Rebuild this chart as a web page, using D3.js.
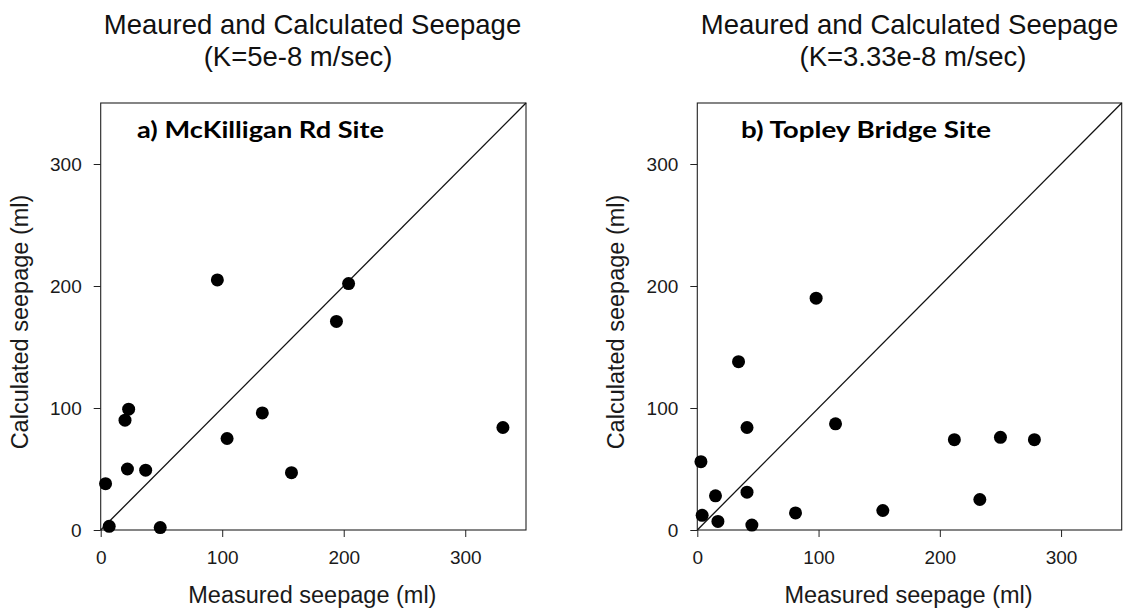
<!DOCTYPE html>
<html>
<head>
<meta charset="utf-8">
<script src="https://cdn.jsdelivr.net/npm/d3@7"></script>
<style>
  body { margin: 0; background: #fff; }
  svg { display: block; }
</style>
</head>
<body>
<svg id="chart" width="1124" height="609"></svg>
<script>
// Seepage data: measured vs. calculated (ml) for each site
const mckMeasured   = [4, 7, 20, 23, 22, 37, 49, 96, 104, 133, 157, 194, 204, 331];
const mckCalculated = [38, 3, 90, 99, 50, 49, 2, 205, 75, 96, 47, 171, 202, 84];

const topMeasured   = [3, 4, 15, 17, 34, 41, 41, 45, 81, 98, 114, 153, 212, 233, 250, 278];
const topCalculated = [56, 12, 28, 7, 138, 84, 31, 4, 14, 190, 87, 16, 74, 25, 76, 74];

const tickValues = [0, 100, 200, 300];
const axisDomain = [0, 350];

const titleText = "Meaured and Calculated Seepage";
const subtitles = ["(K=5e-8 m/sec)", "(K=3.33e-8 m/sec)"];
const siteLabels = ["a) McKilligan Rd Site", "b) Topley Bridge Site"];
const xTitle = "Measured seepage (ml)";
const yTitle = "Calculated seepage (ml)";

const svg = d3.select("#chart");
const sans = "'Liberation Sans', Arial, sans-serif";
const ink = "#1a1a1a";

// Per-panel frame geometry
const frames = [
  { left: 100.7, right: 526,    top: 103, bottom: 530, t1: 312.5, t2: 298, labelX: 137, labelW: 247 },
  { left: 697.3, right: 1121.7, top: 103, bottom: 530, t1: 909.5, t2: 913, labelX: 741, labelW: 250 }
];

const series = [
  mckMeasured.map((m, i) => ({ measured: m, calculated: mckCalculated[i] })),
  topMeasured.map((m, i) => ({ measured: m, calculated: topCalculated[i] }))
];

frames.forEach((f, k) => {
  const x = d3.scaleLinear().domain(axisDomain).range([f.left, f.right]);
  const y = d3.scaleLinear().domain(axisDomain).range([f.bottom, f.top]);
  const g = svg.append("g");

  // Title (two lines)
  g.append("text")
    .attr("x", f.t1).attr("y", 34)
    .attr("text-anchor", "middle")
    .style("font-family", sans).style("font-size", "27.5px").style("fill", "#111")
    .text(titleText);
  g.append("text")
    .attr("x", f.t2).attr("y", 65.5)
    .attr("text-anchor", "middle")
    .style("font-family", sans).style("font-size", "27.5px").style("fill", "#111")
    .text(subtitles[k]);

  // Axes (ticks outward, no domain path — the frame is drawn separately)
  const xAxis = g.append("g")
    .attr("transform", `translate(0,${f.bottom})`)
    .call(d3.axisBottom(x).tickValues(tickValues).tickSize(7).tickPadding(14));
  const yAxis = g.append("g")
    .attr("transform", `translate(${f.left},0)`)
    .call(d3.axisLeft(y).tickValues(tickValues).tickSize(7).tickPadding(12));
  [xAxis, yAxis].forEach(a => {
    a.select(".domain").remove();
    a.selectAll(".tick line").attr("stroke", "#222").attr("stroke-width", 1);
    a.selectAll(".tick text")
      .style("font-family", sans).style("font-size", "19px").attr("fill", ink);
  });

  // Plot frame
  g.append("rect")
    .attr("x", x(axisDomain[0])).attr("y", y(axisDomain[1]))
    .attr("width", x(axisDomain[1]) - x(axisDomain[0]))
    .attr("height", y(axisDomain[0]) - y(axisDomain[1]))
    .attr("fill", "none").attr("stroke", "#222").attr("stroke-width", 1.1);

  // 1:1 line
  g.append("line")
    .attr("x1", x(axisDomain[0])).attr("y1", y(axisDomain[0]))
    .attr("x2", x(axisDomain[1])).attr("y2", y(axisDomain[1]))
    .attr("stroke", "#111").attr("stroke-width", 1.3);

  // Data points
  g.selectAll("circle.pt").data(series[k]).join("circle")
    .attr("class", "pt")
    .attr("cx", d => x(d.measured))
    .attr("cy", d => y(d.calculated))
    .attr("r", 6.5)
    .attr("fill", "#000");

  // Site label
  g.append("text")
    .attr("x", f.labelX).attr("y", 138)
    .attr("textLength", f.labelW).attr("lengthAdjust", "spacingAndGlyphs")
    .style("font-family", "Lato, 'Open Sans', sans-serif")
    .style("font-weight", "bold").style("font-size", "22px").style("fill", "#000")
    .text(siteLabels[k]);

  // Axis titles
  g.append("text")
    .attr("x", (f.left + f.right) / 2 - 1).attr("y", 603)
    .attr("text-anchor", "middle")
    .style("font-family", sans).style("font-size", "23.5px").style("fill", ink)
    .text(xTitle);
  g.append("text")
    .attr("transform", `translate(${f.left - 73},322) rotate(-90)`)
    .attr("text-anchor", "middle")
    .style("font-family", sans).style("font-size", "23.5px").style("fill", ink)
    .text(yTitle);
});
</script>
</body>
</html>
